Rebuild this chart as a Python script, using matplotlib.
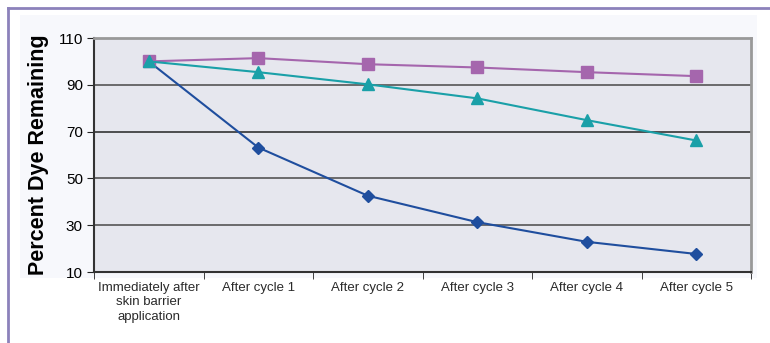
import matplotlib
matplotlib.use("Agg")
import matplotlib.pyplot as plt
from matplotlib.patches import Rectangle
from matplotlib.lines import Line2D

categories = ["Immediately after\nskin barrier\napplication", "After cycle 1", "After cycle 2",
              "After cycle 3", "After cycle 4", "After cycle 5"]
series_blue = [100, 63.2, 42.6, 31.3, 22.9, 17.7]
series_magenta = [100, 101.4, 98.8, 97.4, 95.4, 93.7]
series_teal = [100, 95.4, 90.2, 84.2, 74.9, 66.2]
y_ticks = [10, 30, 50, 70, 90, 110]

fig = plt.figure(figsize=(7.7, 3.43), dpi=100)
fig.patch.set_facecolor("white")
# light panel and border
fig.add_artist(Rectangle((20/770, 1-278/343), (757-20)/770, (278-15)/343,
                         transform=fig.transFigure, facecolor="#f7f8fc", edgecolor="none", zorder=0))
fig.add_artist(Line2D([8/770, 8/770], [0, 1-8/343], transform=fig.transFigure, color="#8c82bb", lw=2))
fig.add_artist(Line2D([8/770, 1], [1-8/343, 1-8/343], transform=fig.transFigure, color="#8c82bb", lw=2))

ax = fig.add_axes([94/770, 1-272/343, (751-94)/770, (272-38)/343])
ax.set_facecolor("#e6e7ee")
x = list(range(len(categories)))
ax.plot(x, series_blue, color="#1f4e9e", marker="D", markersize=6, lw=1.5, zorder=3)
ax.plot(x, series_magenta, color="#a566ad", marker="s", markersize=8, lw=1.5, zorder=3)
ax.plot(x, series_teal, color="#1aa0a8", marker="^", markersize=8, lw=1.5, zorder=4)

ax.set_xlim(-0.5, len(categories) - 0.5)
ax.set_ylim(10, 110)
ax.set_yticks(y_ticks)
ax.set_yticklabels([str(v) for v in y_ticks], fontsize=11, fontfamily="Liberation Sans")
for v in y_ticks[1:-1]:
    ax.axhline(v, color="#333333" if v == 70 else "#555555", lw=1.2, zorder=1)
ax.set_xticks(x)
ax.set_xticklabels(categories, fontsize=9.5, fontfamily="Liberation Sans", color="#2a2a2a",
                   linespacing=1.3)
ax.tick_params(axis="x", length=0, pad=7)
ax.set_xticks([i + 0.5 for i in range(-1, len(categories))], minor=True)
ax.tick_params(axis="x", which="minor", length=5, color="#222222", direction="out")
ax.tick_params(axis="y", length=5, color="#222222", direction="out", pad=3)
ax.spines["left"].set_color("#333333")
ax.spines["left"].set_linewidth(1.5)
ax.spines["bottom"].set_color("#333333")
ax.spines["bottom"].set_linewidth(1.5)
ax.spines["top"].set_color("#999999")
ax.spines["top"].set_linewidth(2)
ax.spines["right"].set_color("#999999")
ax.spines["right"].set_linewidth(2)
ax.set_ylabel("Percent Dye Remaining", fontsize=15.5, fontweight="bold",
              fontfamily="Liberation Sans", labelpad=7)
fig.savefig("out.png", dpi=100, facecolor=fig.get_facecolor())
